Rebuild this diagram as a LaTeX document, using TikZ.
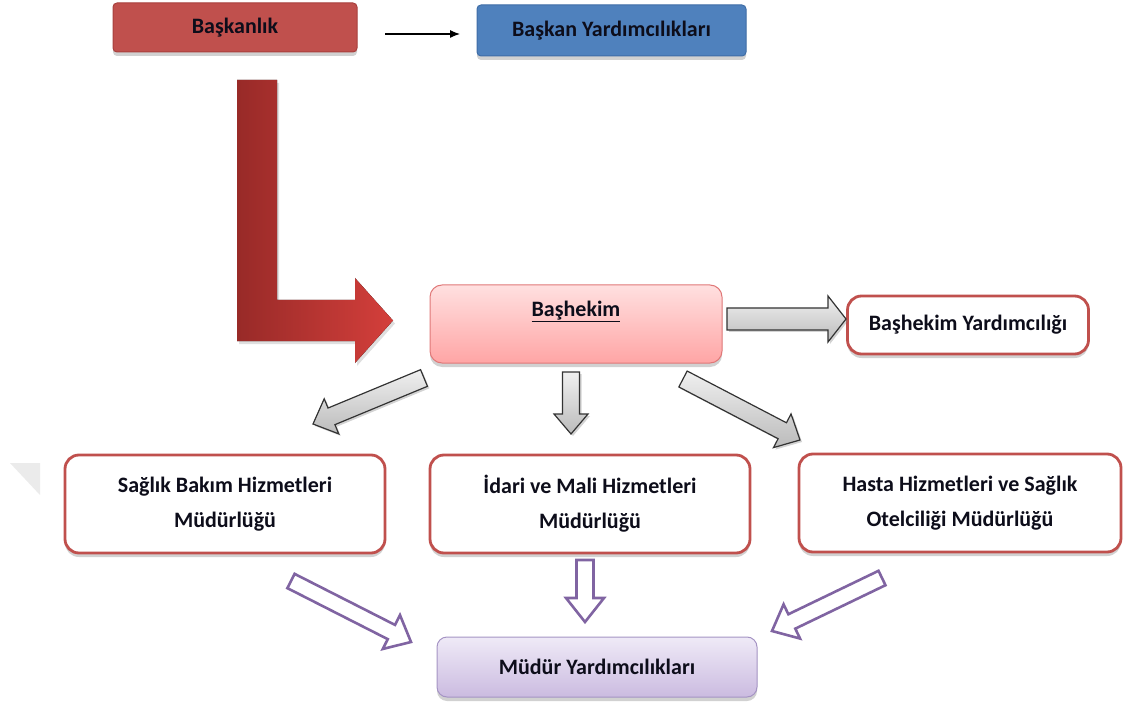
\documentclass[tikz,border=0pt]{standalone}
\usepackage{fontspec}
\setmainfont{Carlito}
\usetikzlibrary{calc,shadows,arrows.meta}

\definecolor{redfill}{HTML}{C0504D}
\definecolor{redline}{HTML}{A8403D}
\definecolor{bluefill}{HTML}{4F81BD}
\definecolor{blueline}{HTML}{3F6DA6}
\definecolor{boxred}{HTML}{C0504D}
\definecolor{pinktop}{HTML}{FFE0E0}
\definecolor{pinkbot}{HTML}{FFA5A5}
\definecolor{pinkline}{HTML}{E07878}
\definecolor{lavtop}{HTML}{EFEAF7}
\definecolor{lavbot}{HTML}{CBBBE0}
\definecolor{lavline}{HTML}{A594C4}
\definecolor{purpline}{HTML}{8064A2}
\definecolor{lgarrow}{HTML}{F0F0F0}
\definecolor{dgarrow}{HTML}{BBBBBB}
\definecolor{Ldark}{HTML}{982A28}
\definecolor{Llight}{HTML}{D43F3B}
\definecolor{txtcol}{HTML}{0D0D1A}

% block arrow: style, tail, tip, half shaft width, half head width, head length
\newcommand\blockarrow[6]{%
  \draw[#1] let \p1=(#2), \p2=(#3),
    \n1={atan2(\y2-\y1,\x2-\x1)}, \n2={veclen(\x2-\x1,\y2-\y1)-#6} in
    ($(\p1)+(\n1+90:#4)$) -- ($(\p1)+(\n1:\n2)+(\n1+90:#4)$) --
    ($(\p1)+(\n1:\n2)+(\n1+90:#5)$) -- (\p2) --
    ($(\p1)+(\n1:\n2)+(\n1-90:#5)$) -- ($(\p1)+(\n1:\n2)+(\n1-90:#4)$) --
    ($(\p1)+(\n1-90:#4)$) -- cycle;}

\tikzset{
  lbl/.style={font=\bfseries\fontsize{22}{35}\selectfont, text=txtcol, align=center, inner sep=0pt},
  softshadow/.style={drop shadow={shadow xshift=0pt, shadow yshift=-4pt, opacity=0.3, fill=black!60}},
  topbox/.style={lbl, rounded corners=4pt, line width=1pt, softshadow},
  unitbox/.style={lbl, draw=boxred, fill=white, line width=2.8pt, rounded corners=14pt, softshadow},
  grayarrow/.style={draw=black!80, line width=1.2pt, top color=lgarrow, bottom color=dgarrow,
    line join=miter, drop shadow={shadow xshift=2pt, shadow yshift=-2pt, opacity=0.35}},
  hollowarrow/.style={draw=purpline, line width=2.6pt, fill=white, line join=miter},
}

\begin{document}
\begin{tikzpicture}[x=1pt, y=1pt]
\useasboundingbox (0,0) rectangle (1129,-708);

% faint corner mark at the left edge
\fill[black!8] (10,-463) -- (40,-463) -- (40,-495) -- cycle;

% top row
\node[topbox, fill=redfill, draw=redline, minimum width=244pt, minimum height=49pt]
  (bask) at (235,-27.5) {Başkanlık};
\node[topbox, fill=bluefill, draw=blueline, minimum width=269pt, minimum height=51pt]
  (baskyrd) at (611.5,-30.5) {Başkan Yardımcılıkları};
\coordinate (sa1) at (385,-34);
\coordinate (sa2) at (460,-34);
\draw[line width=1.2pt, -{Latex[length=10pt, width=8pt]}] (sa1) -- (sa2);

% large bent arrow from the presidency down to the chief physician
\fill[left color=Ldark, right color=Llight, drop shadow={shadow xshift=2pt, shadow yshift=-3pt, opacity=0.25}]
  (237,-80) -- (277,-80) -- (277,-300) -- (355,-300) -- (355,-278) -- (393,-320.5)
  -- (355,-363) -- (355,-341) -- (237,-341) -- cycle;

% chief physician
\node[draw=pinkline, line width=1pt, top color=pinktop, bottom color=pinkbot,
  rounded corners=12pt, minimum width=292pt, minimum height=78pt, softshadow]
  (bashekim) at (576,-324) {};
\node[lbl] (bhtext) at ([yshift=-27pt]bashekim.north) {\underline{Başhekim}};

\node[unitbox, minimum width=241pt, minimum height=58pt] (bhyrd) at (968,-325)
  {Başhekim Yardımcılığı};

% directorates
\node[unitbox, minimum width=320pt, minimum height=98pt] (sbh) at (225,-504)
  {Sağlık Bakım Hizmetleri\\Müdürlüğü};
\node[unitbox, minimum width=320pt, minimum height=98pt] (idari) at (590,-504)
  {İdari ve Mali Hizmetleri\\Müdürlüğü};
\node[unitbox, minimum width=322pt, minimum height=98pt] (hasta) at (960,-503)
  {Hasta Hizmetleri ve Sağlık\\Otelciliği Müdürlüğü};

% deputy directorates
\node[lbl, draw=lavline, line width=1pt, top color=lavtop, bottom color=lavbot,
  rounded corners=10pt, minimum width=320pt, minimum height=60pt, softshadow]
  (myrd) at (597,-667) {Müdür Yardımcılıkları};

% grey block arrows from the chief physician
\coordinate (g0a) at (727,-319);   \coordinate (g0b) at (846,-319);
\coordinate (g1a) at (424,-378);   \coordinate (g1b) at (313,-424);
\coordinate (g2a) at (571,-372);   \coordinate (g2b) at (571,-434);
\coordinate (g3a) at (683,-379);   \coordinate (g3b) at (800,-440);
\blockarrow{grayarrow}{g0a}{g0b}{11}{23}{18}
\blockarrow{grayarrow}{g1a}{g1b}{9}{19}{20}
\blockarrow{grayarrow}{g2a}{g2b}{8.5}{17}{20}
\blockarrow{grayarrow}{g3a}{g3b}{9}{19}{20}

% hollow purple arrows into the deputy directorates
\coordinate (p1a) at (291,-581);   \coordinate (p1b) at (411,-642);
\coordinate (p2a) at (585,-560);   \coordinate (p2b) at (585,-622);
\coordinate (p3a) at (882,-578);   \coordinate (p3b) at (772,-631);
\blockarrow{hollowarrow}{p1a}{p1b}{8}{19}{22}
\blockarrow{hollowarrow}{p2a}{p2b}{8.5}{19}{24}
\blockarrow{hollowarrow}{p3a}{p3b}{8}{19}{22}
\end{tikzpicture}
\end{document}
